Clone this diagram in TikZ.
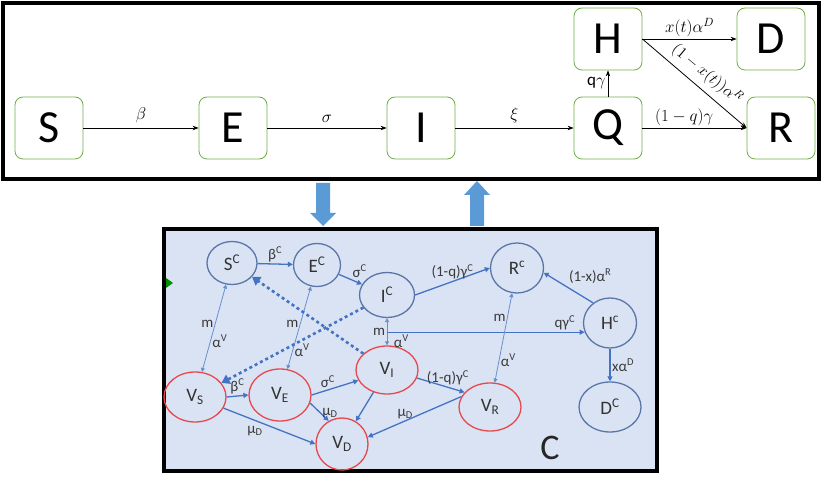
\RequirePackage{fix-cm}
\documentclass[tikz,border=0pt]{standalone}
\usepackage{fontspec}
\setmainfont{Carlito}
\usetikzlibrary{arrows.meta,shapes.geometric}
\definecolor{boxgreen}{HTML}{70AD47}
\definecolor{bigblue}{HTML}{5B9BD5}
\definecolor{panel}{HTML}{DAE3F3}
\definecolor{edgeblue}{HTML}{4472C4}
\definecolor{ringblue}{HTML}{5A76A8}
\definecolor{ringred}{HTML}{E8474C}
\definecolor{labelgray}{HTML}{3A3A3A}
\begin{document}
\begin{tikzpicture}[x=1pt,y=-1pt,
  stage/.style={draw=boxgreen, line width=0.8pt, rounded corners=8pt, minimum width=68pt, minimum height=62pt, inner sep=0pt, font=\fontsize{46}{46}\selectfont},
  flow/.style={-{Stealth[length=6pt,width=4.5pt]}, line width=0.8pt},
  rate/.style={font=\fontsize{17}{17}\selectfont, inner sep=2pt},
  ring/.style={ellipse, draw=ringblue, line width=1.3pt, inner sep=0pt, font=\fontsize{19}{19}\selectfont, text=black!80},
  vring/.style={ring, draw=ringred},
  link/.style={draw=edgeblue, line width=1.3pt, -{Triangle[length=5pt,width=5pt]}},
  twoway/.style={draw=edgeblue!80, line width=0.8pt, {Triangle[length=4pt,width=4pt]}-{Triangle[length=4pt,width=4pt]}},
  dots/.style={draw=edgeblue, line width=2.6pt, dash pattern=on 3pt off 3pt, -{Triangle[length=8pt,width=10pt]}},
  lab/.style={font=\fontsize{15}{15}\selectfont, text=labelgray, inner sep=1.5pt}
]
\useasboundingbox (0,0) rectangle (825,478);
% ---------- top model ----------
\draw[line width=4pt] (3,3) rectangle (819,179);
\node[stage] (S) at (49,128) {S};
\node[stage] (E) at (233,128) {E};
\node[stage] (I) at (421,128) {I};
\node[stage] (Q) at (608,128) {Q};
\node[stage] (R) at (781,128) {R};
\node[stage] (H) at (608,39) {H};
\node[stage] (D) at (771,39) {D};
\draw[flow] (S) -- node[rate, above=3pt] {$\beta$} (E);
\draw[flow] (E) -- node[rate, above=3pt] {$\sigma$} (I);
\draw[flow] (I) -- node[rate, above=3pt] {$\xi$} (Q);
\draw[flow] (Q) -- node[rate, above, pos=0.4] {$(1-q)\gamma$} (R);
\draw[flow] (Q) -- node[rate, left] {$\mathrm{q}\gamma$} (H);
\draw[flow] (H) -- node[rate, above] {$x(t)\alpha^D$} (D);
\draw[flow] (H.east) -- (R.west);
\node[font=\fontsize{16}{16}\selectfont, rotate=-40, inner sep=0pt] (hrlabel) at (707,74) {$(1-x(t))\alpha^R$};
% ---------- block arrows ----------
\fill[bigblue] (316,183) -- (330,183) -- (330,213) -- (336,213) -- (323,226) -- (310,213) -- (316,213) -- cycle;
\fill[bigblue] (470,226) -- (484,226) -- (484,195) -- (490,195) -- (477,181) -- (464,195) -- (470,195) -- cycle;
% ---------- bottom model ----------
\draw[line width=4pt, fill=panel] (164,229) rectangle (657,471);
\fill[green!55!black] (166,278) -- (173,283) -- (166,288) -- cycle;
\node[ring, minimum width=50pt, minimum height=43pt] (SC) at (232,263) {S\textsuperscript{C}};
\node[ring, minimum width=47pt, minimum height=43pt] (EC) at (317,265) {E\textsuperscript{C}};
\node[ring, minimum width=55pt, minimum height=45pt] (IC) at (387,295) {I\textsuperscript{C}};
\node[ring, minimum width=53pt, minimum height=50pt] (RC) at (517,268) {R\textsuperscript{c}};
\node[ring, minimum width=53pt, minimum height=50pt] (HC) at (610,323) {H\textsuperscript{c}};
\node[ring, minimum width=62pt, minimum height=50pt] (DC) at (610,407) {D\textsuperscript{C}};
\node[vring, minimum width=62pt, minimum height=50pt] (VS) at (195,397) {V\textsubscript{S}};
\node[vring, minimum width=62pt, minimum height=52pt] (VE) at (280,395) {V\textsubscript{E}};
\node[vring, minimum width=62pt, minimum height=48pt] (VI) at (387,370) {V\textsubscript{I}};
\node[vring, minimum width=52pt, minimum height=52pt] (VD) at (342,444) {V\textsubscript{D}};
\node[vring, minimum width=62pt, minimum height=48pt] (VR) at (490,407) {V\textsubscript{R}};
\node[font=\fontsize{36}{36}\selectfont, text=black!85] (biglabel) at (550,448) {C};
\draw[link] (SC) -- node[lab, above] {β\textsuperscript{C}} (EC);
\draw[link] (EC) -- node[lab, above right, pos=0.5] {σ\textsuperscript{C}} (IC);
\draw[link] (IC.east) -- node[lab, above, pos=0.5] {(1-q)γ\textsuperscript{C}} (RC.west);
\draw[twoway] (IC) -- node[lab, left, pos=0.5] {m} node[lab, right=5pt, pos=0.84] {α\textsuperscript{V}} (VI);
\draw[link] (IC.south |- HC.200) -- node[lab, above, pos=0.9] {qγ\textsuperscript{C}} (HC.200);
\draw[link] (HC.130) -- node[lab, above right=1pt, pos=0.55] {(1-x)α\textsuperscript{R}} (RC.-10);
\draw[link] (HC) -- node[lab, right] {xα\textsuperscript{D}} (DC);
\draw[twoway] (SC) -- node[lab, left, pos=0.45] {m} node[lab, right, pos=0.65] {α\textsuperscript{V}} (VS);
\draw[twoway] (EC) -- node[lab, left, pos=0.45] {m} node[lab, right, pos=0.77] {α\textsuperscript{V}} (VE);
\draw[twoway] (RC) -- node[lab, left, pos=0.27] {m} node[lab, right, pos=0.75] {α\textsuperscript{V}} (VR);
\draw[dots] (VI) -- (SC);
\draw[dots] (IC) -- (VS);
\draw[link] (VS.east) -- node[lab, above] {β\textsuperscript{C}} (VE.west);
\draw[link] (VE.east) -- node[lab, above, pos=0.35] {σ\textsuperscript{C}} (VI.200);
\draw[link] (VI.-15) -- node[lab, above, pos=0.65] {(1-q)γ\textsuperscript{C}} (VR.150);
\draw[link] (VS) -- node[lab, below left, pos=0.45] {μ\textsubscript{D}} (VD.west);
\draw[link] (VE.-15) -- node[lab, right, pos=0.55] {μ\textsubscript{D}} (VD.120);
\draw[link] (VI) -- (VD);
\draw[link] (VR.160) -- node[lab, above, pos=0.6] {μ\textsubscript{D}} (VD.15);
\end{tikzpicture}
\end{document}
